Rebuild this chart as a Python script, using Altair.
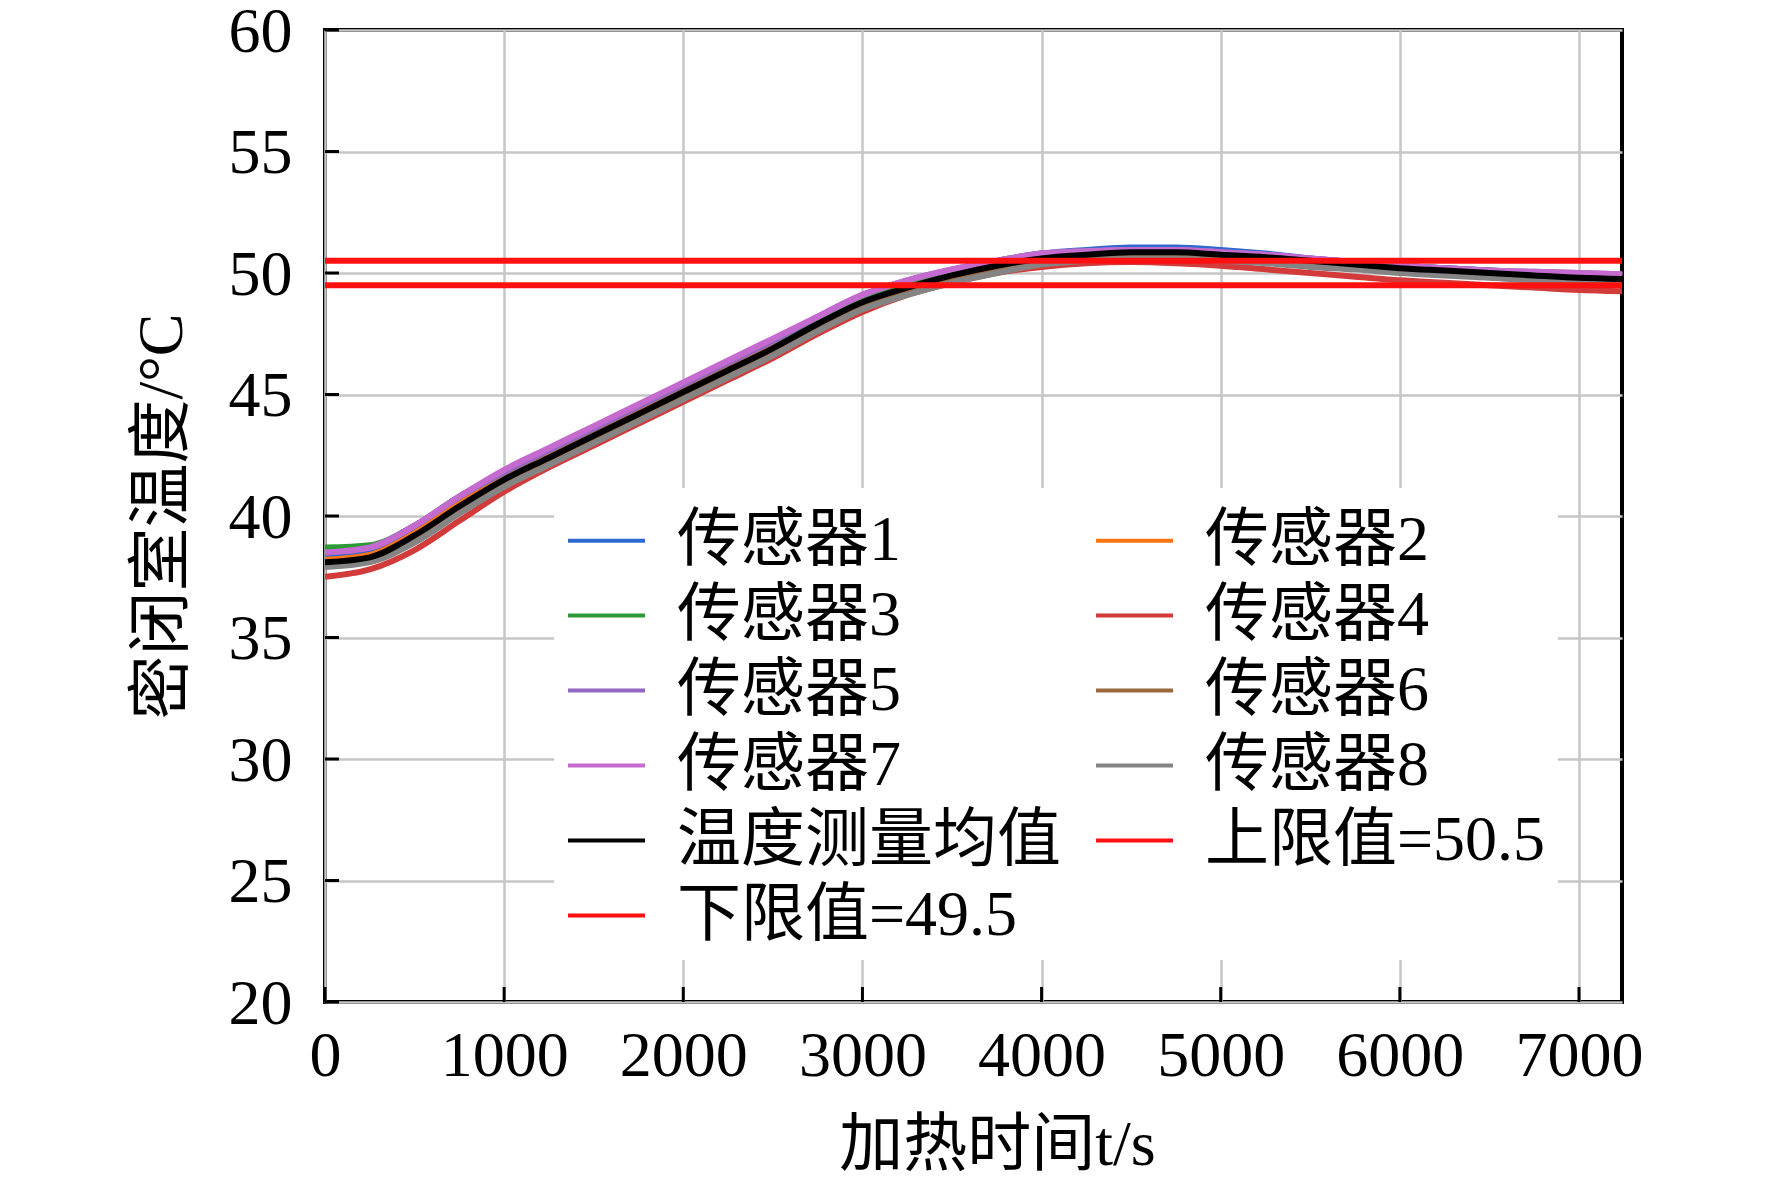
import altair as alt
import pandas as pd

# ---- data ----
times = [0, 250, 500, 750, 1000, 1250, 1500, 1750, 2000, 2250, 2500, 2750, 3000, 3250, 3500,
         3750, 4000, 4250, 4500, 4750, 5000, 5250, 5500, 5750, 6000, 6250, 6500, 6750, 7000, 7240]

sensor1 = [38.4, 38.6, 39.5, 40.7, 41.8, 42.7, 43.6, 44.5, 45.4, 46.3, 47.2, 48.1, 49.0, 49.6, 50.1,
           50.5, 50.8, 50.95, 51.05, 51.05, 50.95, 50.8, 50.6, 50.45, 50.3, 50.2, 50.1, 50.0, 49.95, 49.9]
sensor2 = [38.2, 38.4, 39.3, 40.5, 41.6, 42.5, 43.4, 44.3, 45.2, 46.1, 47.0, 48.0, 48.9, 49.5, 50.0,
           50.4, 50.65, 50.8, 50.9, 50.9, 50.8, 50.7, 50.55, 50.4, 50.25, 50.15, 50.05, 49.95, 49.85, 49.8]
sensor3 = [38.7, 38.8, 39.6, 40.8, 41.8, 42.7, 43.6, 44.5, 45.4, 46.3, 47.2, 48.1, 49.0, 49.6, 50.05,
           50.45, 50.7, 50.85, 50.95, 50.95, 50.85, 50.7, 50.55, 50.4, 50.3, 50.2, 50.1, 50.0, 49.9, 49.85]
sensor4 = [37.5, 37.8, 38.6, 39.8, 41.0, 42.0, 42.9, 43.8, 44.7, 45.6, 46.5, 47.5, 48.4, 49.1, 49.6,
           50.0, 50.25, 50.4, 50.45, 50.4, 50.3, 50.15, 50.0, 49.85, 49.7, 49.6, 49.5, 49.4, 49.3, 49.25]
sensor5 = [38.5, 38.7, 39.6, 40.8, 41.8, 42.7, 43.6, 44.5, 45.4, 46.3, 47.2, 48.2, 49.1, 49.7, 50.15,
           50.5, 50.8, 50.9, 50.95, 50.95, 50.85, 50.75, 50.6, 50.45, 50.3, 50.2, 50.1, 50.05, 50.0, 49.95]
sensor6 = [38.0, 38.2, 39.0, 40.2, 41.3, 42.2, 43.1, 44.0, 44.9, 45.8, 46.7, 47.7, 48.6, 49.2, 49.7,
           50.1, 50.4, 50.55, 50.65, 50.65, 50.55, 50.45, 50.3, 50.2, 50.05, 49.95, 49.85, 49.75, 49.7, 49.65]
sensor7 = [38.5, 38.7, 39.6, 40.8, 41.9, 42.8, 43.7, 44.6, 45.5, 46.4, 47.3, 48.2, 49.1, 49.7, 50.15,
           50.5, 50.8, 50.9, 50.95, 50.95, 50.85, 50.75, 50.6, 50.45, 50.3, 50.2, 50.1, 50.05, 50.0, 49.95]
sensor8 = [37.9, 38.1, 38.9, 40.1, 41.2, 42.1, 43.0, 43.9, 44.8, 45.7, 46.6, 47.6, 48.5, 49.1, 49.6,
           50.0, 50.35, 50.5, 50.6, 50.6, 50.5, 50.4, 50.25, 50.15, 50.0, 49.9, 49.8, 49.7, 49.65, 49.6]
mean_vals = [38.1, 38.3, 39.2, 40.4, 41.5, 42.4, 43.3, 44.2, 45.1, 46.0, 46.9, 47.9, 48.8, 49.4, 49.9,
             50.3, 50.6, 50.75, 50.85, 50.85, 50.75, 50.65, 50.5, 50.35, 50.2, 50.1, 50.0, 49.9, 49.8, 49.75]

limit_times = [0, 7240]
upper_limit = 50.5
lower_limit = 49.5

names = ["传感器1", "传感器2", "传感器3", "传感器4", "传感器5", "传感器6", "传感器7", "传感器8",
         "温度测量均值", "上限值=50.5", "下限值=49.5"]
colors = ["#2f68cf", "#ff7414", "#2e9a36", "#d33a3a", "#9467c4", "#9a6a3e", "#c56bd0", "#848484",
          "#000000", "#ff1010", "#ff1010"]

x_ticks = [0, 1000, 2000, 3000, 4000, 5000, 6000, 7000]
y_ticks = [20, 25, 30, 35, 40, 45, 50, 55, 60]

# ---- build table ----
series_vals = [sensor1, sensor2, sensor3, sensor4, sensor5, sensor6, sensor7, sensor8, mean_vals]
rows = []
for name, vals in zip(names[:9], series_vals):
    for t, v in zip(times, vals):
        rows.append({"series": name, "t": t, "v": v})
for name, lv in zip(names[9:], [upper_limit, lower_limit]):
    for t in limit_times:
        rows.append({"series": name, "t": t, "v": lv})
df = pd.DataFrame(rows)

FONT = "Liberation Serif, Noto Sans CJK SC"
W, H = 1297, 972

xscale = alt.Scale(domain=[0, 7240], nice=False, zero=False)
yscale = alt.Scale(domain=[20, 60], nice=False, zero=False)

lines = alt.Chart(df).mark_line(strokeWidth=6, interpolate="monotone", clip=True).encode(
    x=alt.X("t:Q", scale=xscale,
            axis=alt.Axis(values=x_ticks, format="d", title="加热时间t/s",
                          labelFontSize=64, labelPadding=22, labelFlush=False,
                          titleFontSize=64, titlePadding=25, titleX=672)),
    y=alt.Y("v:Q", scale=yscale,
            axis=alt.Axis(values=y_ticks, format="d", title="密闭室温度/°C",
                          labelFontSize=64, labelPadding=33, labelFlush=False,
                          labelOffset=2,
                          titleFontSize=64, titlePadding=34)),
    color=alt.Color("series:N", sort=names,
                    scale=alt.Scale(domain=names, range=colors),
                    legend=alt.Legend(title=None, orient="none", legendX=229, legendY=458,
                                      direction="horizontal", columns=2,
                                      symbolType="stroke", symbolSize=5929,
                                      symbolStrokeWidth=4, labelFont=FONT, labelFontSize=64,
                                      labelOffset=30, labelLimit=1000, columnPadding=27,
                                      rowPadding=2, padding=12, fillColor="white",
                                      labelColor="black")),
    detail="series:N",
)

ytick_df = pd.DataFrame({"v": y_ticks})
xtick_df = pd.DataFrame({"t": x_ticks})

yticks = alt.Chart(ytick_df).mark_rule(color="black", strokeWidth=3).encode(
    y=alt.Y("v:Q", scale=yscale), x=alt.value(0), x2=alt.value(14))
xticks = alt.Chart(xtick_df).mark_rule(color="black", strokeWidth=3).encode(
    x=alt.X("t:Q", scale=xscale), y=alt.value(H), y2=alt.value(H - 15))

chart = alt.layer(lines, yticks, xticks).properties(
    width=W, height=H,
    autosize=alt.AutoSizeParams(type="none"),
    padding={"left": 317, "top": 22, "right": 142, "bottom": 181},
    background="white",
).configure_view(
    stroke="black", strokeWidth=4
).configure_axis(
    domain=False, ticks=False, grid=True, gridColor="#c6c6c6", gridWidth=2.5,
    labelFont="Liberation Serif", labelColor="black", titleFont=FONT,
    titleColor="black", titleFontWeight="normal",
)

chart.save("out.html", embed_options={"renderer": "svg", "actions": False})
